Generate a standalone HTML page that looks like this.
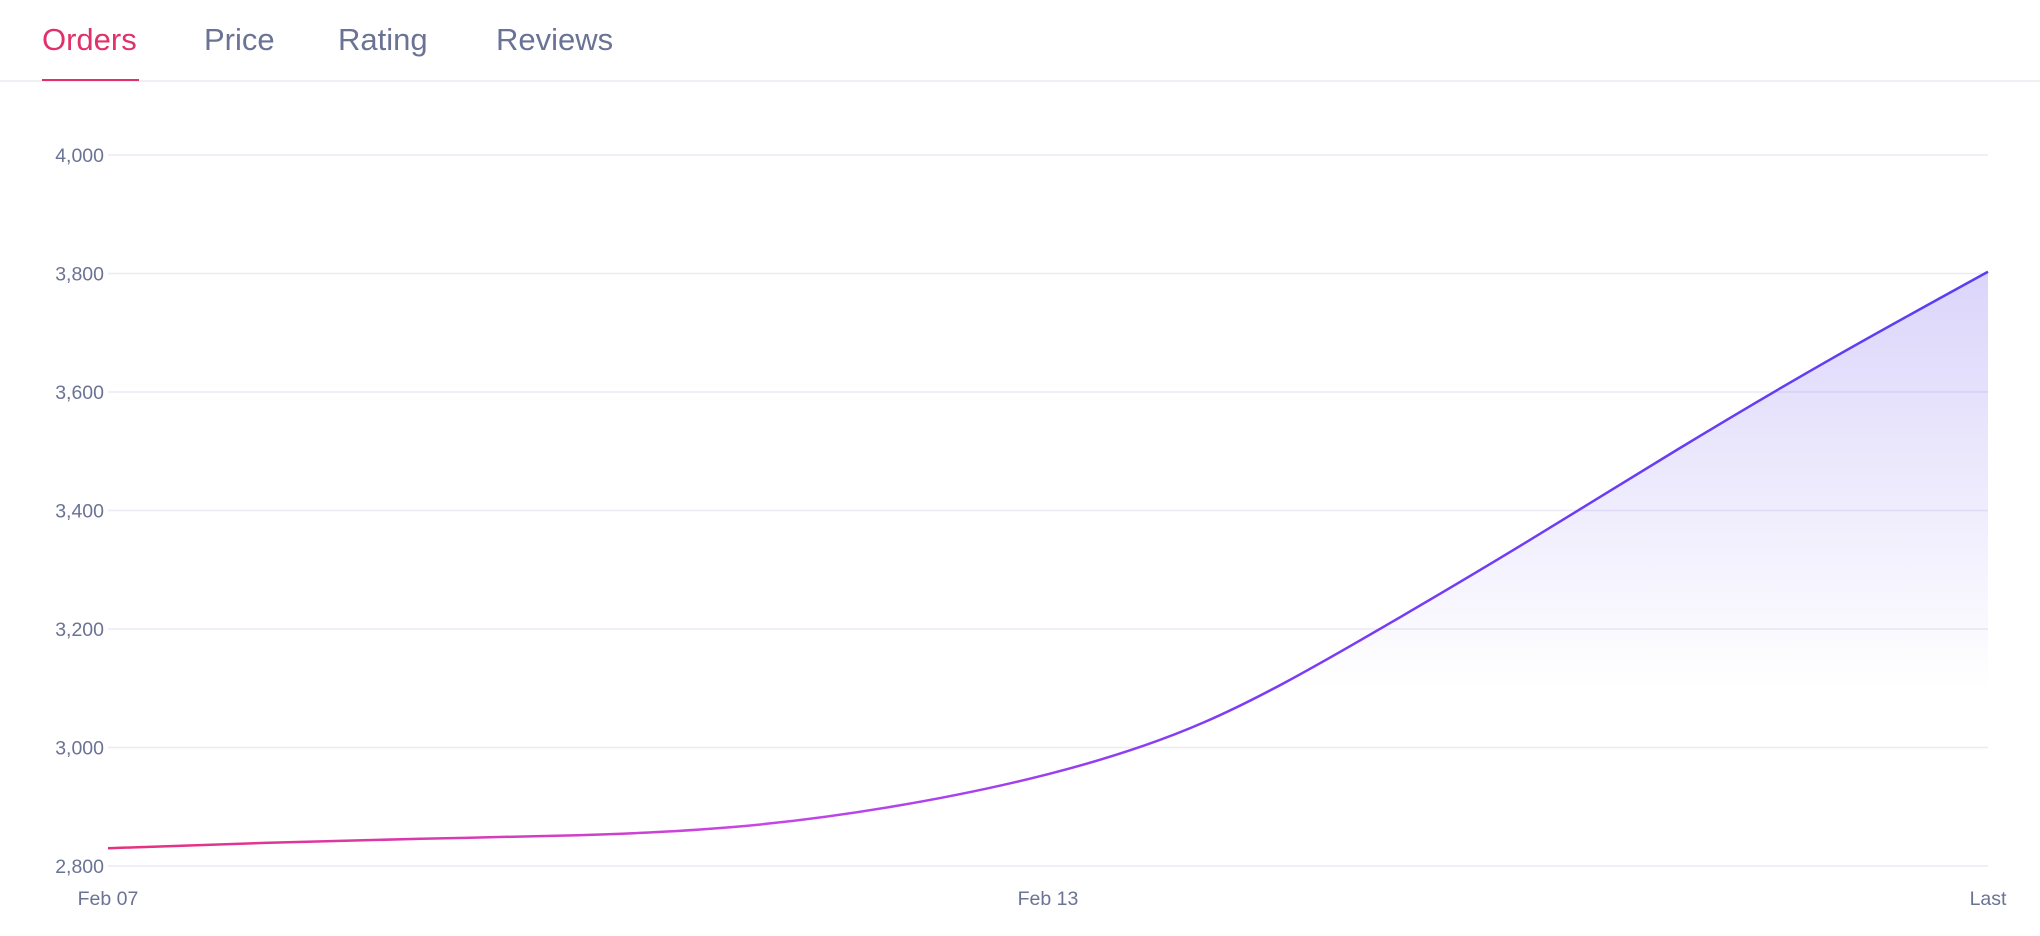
<!DOCTYPE html>
<html><head><meta charset="utf-8"><style>
html,body{margin:0;padding:0;background:#fff;width:2040px;height:936px;overflow:hidden;font-family:"Liberation Sans",sans-serif}
.tabs{position:absolute;left:0;top:0;width:2040px;height:80px;border-bottom:2px solid #eef0f6}
.tab{position:absolute;top:22px;font-size:31px;color:#6b7394;cursor:pointer}
.tab.active{color:#e0316a}
.ul{position:absolute;left:42px;top:79px;width:97px;height:2px;background:#e0316a}
svg{position:absolute;left:0;top:0}
</style></head><body>
<div class="tabs">
<div class="tab active" style="left:42px">Orders</div>
<div class="tab" style="left:204px">Price</div>
<div class="tab" style="left:338px">Rating</div>
<div class="tab" style="left:496px">Reviews</div>
<div class="ul"></div>
</div>
<svg id="chart" width="2040" height="936">
<defs>
<linearGradient id="lg" x1="108" y1="0" x2="1988" y2="0" gradientUnits="userSpaceOnUse">
<stop offset="0" stop-color="#e8307a"/><stop offset="0.35" stop-color="#c646e8"/><stop offset="0.6" stop-color="#7d3cf5"/><stop offset="1" stop-color="#5a3df2"/></linearGradient>
<linearGradient id="fg" x1="0" y1="272" x2="0" y2="690" gradientUnits="userSpaceOnUse">
<stop offset="0" stop-color="#7a63ee" stop-opacity="0.27"/><stop offset="1" stop-color="#7a63ee" stop-opacity="0"/></linearGradient>
</defs>
</svg>
<script>
const categories=["Feb 07","Feb 08","Feb 09","Feb 10","Feb 11","Feb 12","Feb 13","Feb 14","Feb 15","Feb 16","Feb 17","Feb 18","Last"];
const orders=[2830,2839,2846,2852,2866,2900,2955,3043,3182,3338,3500,3656,3803];
const yTicks=[2800,3000,3200,3400,3600,3800,4000];
const xTickLabels=["Feb 07","Feb 13","Last"];
const xTickIdx=[0,6,12];
const NS="http://www.w3.org/2000/svg";
const svg=document.getElementById('chart');
const X0=108,X1=1988,Y0=866,Y1=155,ymin=2800,ymax=4000;
const xs=i=>X0+(X1-X0)*i/(categories.length-1);
const ys=v=>Y0-(v-ymin)/(ymax-ymin)*(Y0-Y1);
function mk(t,a){const e=document.createElementNS(NS,t);for(const k in a)e.setAttribute(k,a[k]);svg.appendChild(e);return e;}
yTicks.forEach(v=>{
const l=mk('line',{x1:X0,x2:X1,y1:ys(v),y2:ys(v),stroke:'#eceaf7','stroke-width':1.5});


const t=mk('text',{x:104,y:ys(v)+7,'text-anchor':'end','font-size':19.5,fill:'#6b7394'});
t.textContent=v.toLocaleString('en-US');


});
xTickIdx.forEach((i,k)=>{
const t=mk('text',{x:xs(i),y:905,'text-anchor':'middle','font-size':19.5,fill:'#6b7394'});
t.textContent=xTickLabels[k];


});
// natural cubic spline
const P=orders.map((v,i)=>[xs(i),ys(v)]);const n=P.length;const h=P[1][0]-P[0][0];
const M=new Array(n).fill(0);
{const a=[],b=[],c=[],r=[];for(let i=1;i<n-1;i++){a.push(1);b.push(4);c.push(1);r.push(6*(P[i+1][1]-2*P[i][1]+P[i-1][1])/(h*h));}
const k=r.length;for(let i=1;i<k;i++){const w=a[i]/b[i-1];b[i]-=w*c[i-1];r[i]-=w*r[i-1];}
const s=new Array(k);s[k-1]=r[k-1]/b[k-1];for(let i=k-2;i>=0;i--)s[i]=(r[i]-c[i]*s[i+1])/b[i];
for(let i=0;i<k;i++)M[i+1]=s[i];}
let path=`M${P[0][0]},${P[0][1]}`;
for(let i=0;i<n-1;i++){
const d0=(P[i+1][1]-P[i][1])/h-h*(2*M[i]+M[i+1])/6;
const d1=(P[i+1][1]-P[i][1])/h+h*(M[i]+2*M[i+1])/6;
path+=` C${P[i][0]+h/3},${P[i][1]+d0*h/3} ${P[i+1][0]-h/3},${P[i+1][1]-d1*h/3} ${P[i+1][0]},${P[i+1][1]}`;}
const area=mk('path',{d:path+` L${X1},${Y0} L${X0},${Y0} Z`,fill:'url(#fg)'});


const line=mk('path',{d:path,fill:'none',stroke:'url(#lg)','stroke-width':2.5});


</script>
</body></html>
